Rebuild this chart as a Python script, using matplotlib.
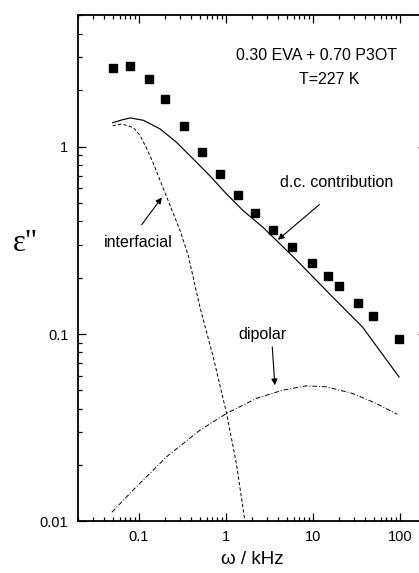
"""Dielectric loss spectrum of the 0.30 EVA + 0.70 P3OT blend at 227 K."""

import matplotlib

matplotlib.use("Agg")

import matplotlib.pyplot as plt
from matplotlib.ticker import FixedLocator, LogLocator, NullFormatter, FuncFormatter

plt.rcParams["font.family"] = ["Liberation Sans", "DejaVu Sans"]

# measured loss (squares)
freq_khz = [0.05, 0.08, 0.13, 0.2, 0.33, 0.53, 0.85, 1.37, 2.19, 3.48,
            5.84, 9.72, 14.8, 19.8, 32.7, 49.0, 98.9]
eps_loss = [2.62, 2.69, 2.30, 1.80, 1.28, 0.94, 0.71, 0.55, 0.44, 0.36,
            0.29, 0.238, 0.203, 0.181, 0.147, 0.125, 0.094]

# fitted contributions
dc_freq = [0.05, 0.065, 0.08, 0.113, 0.176, 0.273, 0.423, 0.656, 1.02,
           1.58, 2.67, 6.44, 15.5, 37.2, 98.0]
dc_eps = [1.34, 1.39, 1.42, 1.38, 1.24, 1.05, 0.857, 0.698, 0.558,
          0.455, 0.371, 0.249, 0.164, 0.109, 0.059]

if_freq = [0.05, 0.064, 0.087, 0.104, 0.124, 0.148, 0.176, 0.21, 0.25,
           0.298, 0.37, 0.504, 0.716, 1.02, 1.32, 1.65]
if_eps = [1.29, 1.32, 1.26, 1.14, 0.97, 0.806, 0.657, 0.535, 0.437,
          0.356, 0.262, 0.139, 0.0755, 0.0377, 0.0205, 0.0102]

dip_freq = [0.049, 0.087, 0.21, 0.504, 1.02, 2.24, 4.53, 8.38, 14.2,
            28.6, 53.0, 93.6]
dip_eps = [0.0112, 0.0148, 0.0222, 0.0307, 0.0377, 0.0453, 0.0502,
           0.0529, 0.0523, 0.0482, 0.0427, 0.0373]

x_ticks = [0.1, 1, 10, 100]
y_ticks = [0.01, 0.1, 1]

fig = plt.figure(figsize=(4.19, 5.73), dpi=100)
ax = fig.add_axes([0.1862, 0.0899, 0.8305, 0.8831])

ax.plot(freq_khz, eps_loss, "s", color="black", markersize=5.5, zorder=3)
ax.plot(dc_freq, dc_eps, "-", color="black", linewidth=0.85)
ax.plot(if_freq, if_eps, color="black", linewidth=0.7, dashes=(3.5, 2.2))
ax.plot(dip_freq, dip_eps, color="black", linewidth=0.7,
        dashes=(5, 2, 1, 2))

ax.set_xscale("log")
ax.set_yscale("log")
ax.set_xlim(0.02, 200)
ax.set_ylim(0.01, 5)

fmt = FuncFormatter(lambda v, pos: f"{v:g}")
ax.xaxis.set_major_locator(FixedLocator(x_ticks))
ax.yaxis.set_major_locator(FixedLocator(y_ticks))
ax.xaxis.set_major_formatter(fmt)
ax.yaxis.set_major_formatter(fmt)
for axis in (ax.xaxis, ax.yaxis):
    axis.set_minor_locator(LogLocator(base=10, subs=range(2, 10), numticks=20))
    axis.set_minor_formatter(NullFormatter())

ax.tick_params(which="both", direction="in", top=True, right=True,
               width=0.9, labelsize=10.5)
ax.tick_params(which="major", length=6)
ax.tick_params(which="minor", length=3.2)
ax.tick_params(axis="y", which="major", pad=7)
ax.tick_params(axis="x", which="major", pad=6)
for spine in ax.spines.values():
    spine.set_linewidth(1.3)

ax.set_xlabel("ω / kHz", fontsize=13.5, labelpad=5)
ax.set_ylabel('ε"', fontsize=22, rotation=0, family="Liberation Serif",
              ha="center", va="center")
ax.yaxis.set_label_coords(-0.152, 0.549)

ax.text(0.686, 0.920, "0.30 EVA + 0.70 P3OT", transform=ax.transAxes,
        ha="center", va="center", fontsize=11.5)
ax.text(0.721, 0.874, "T=227 K", transform=ax.transAxes,
        ha="center", va="center", fontsize=11.5)

arrow = dict(arrowstyle="-|>", color="black", lw=0.8, mutation_scale=9,
             shrinkA=0, shrinkB=0)
ax.text(18.6, 0.641, "d.c. contribution", ha="center", va="center",
        fontsize=11.5)
ax.annotate("", xy=(3.97, 0.318), xytext=(11.9, 0.49), arrowprops=arrow)
ax.text(0.0977, 0.307, "interfacial", ha="center", va="center",
        fontsize=11.5)
ax.annotate("", xy=(0.184, 0.535), xytext=(0.108, 0.383), arrowprops=arrow)
ax.text(2.65, 0.0995, "dipolar", ha="center", va="center", fontsize=11.5)
ax.annotate("", xy=(3.66, 0.0533), xytext=(3.42, 0.0853), arrowprops=arrow)

fig.savefig("out.png", dpi=100)
